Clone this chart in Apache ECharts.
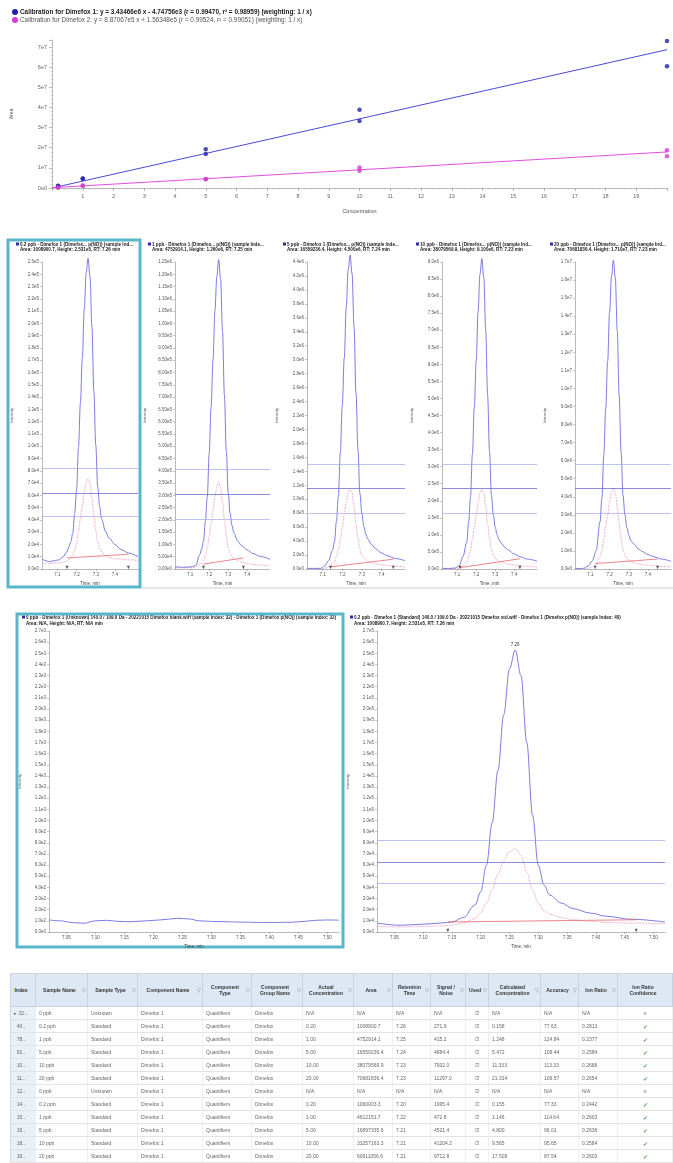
<!DOCTYPE html>
<html><head><meta charset="utf-8">
<script src="https://cdn.jsdelivr.net/npm/echarts@6/dist/echarts.min.js"></script>
<style>
html,body{margin:0;padding:0;background:#fff;width:673px;height:1163px;overflow:hidden;font-family:'Liberation Sans',Arial,sans-serif}
#chart{position:absolute;left:0;top:0;width:673px;height:1163px}
#tbl{position:absolute;left:10px;top:973px;width:662px;border-collapse:collapse;table-layout:fixed;font-size:5px;color:#666;border:1px solid #cfd8e2}
#tbl th{background:#dde8f4;color:#333;font-weight:bold;height:32px;padding:0 6px 0 2px;border-right:1px solid #c5d2df;border-bottom:1px solid #c5d2df;text-align:center;position:relative;line-height:6px;white-space:normal}
#tbl th span.f{position:absolute;right:1px;top:13px;color:#777;font-weight:normal;font-size:5px}
#tbl td{height:12px;padding:0 3px;border-bottom:1px solid #e3e3e3;border-right:1px solid #f0f0f0;white-space:nowrap;overflow:hidden;text-align:left}
#tbl td.ix{background:#e9f0f8;color:#666}
#tbl td.c{text-align:center}
#tbl td.ok{color:#4caf50;text-align:center;font-size:6px}
#tbl td.na{color:#999;text-align:center;font-size:5px}
</style></head><body>
<div id="chart"></div>
<table id="tbl"></table>
<script>
// ---------------- calibration data ----------------
const calibTitles = [
  "Calibration for Dimefox 1: y = 3.43466e6 x - 4.74756e3 (r = 0.99470, r\u00b2 = 0.98959) (weighting: 1 / x)",
  "Calibration for Dimefox 2: y = 8.87067e5 x + 1.56348e5 (r = 0.99524, r\u00b2 = 0.99051) (weighting: 1 / x)"
];
const quant1Points = [[0.2,1.0e6],[0.2,1.06e6],[1,4.75e6],[1,4.61e6],[5,1.69e7],[5,1.93e7],[10,3.88e7],[10,3.33e7],[20,7.3e7],[20,6.05e7]];
const quant2Points = [[0.2,2.8e5],[0.2,2.6e5],[1,1.13e6],[1,1.20e6],[5,4.3e6],[5,4.45e6],[10,1.02e7],[10,8.6e6],[20,1.88e7],[20,1.58e7]];
const quant1Fit = [[0,-4.7e3],[20,6.869e7]];
const quant2Fit = [[0,1.56e5],[20,1.79e7]];

// ---------------- small chromatogram panels (shared time grid) ----------------
const smallTimes = [7.02,7.06,7.09,7.11,7.13,7.15,7.16,7.17,7.18,7.19,7.20,7.21,7.22,7.23,7.24,7.25,7.26,7.27,7.28,7.29,7.30,7.31,7.32,7.33,7.35,7.37,7.40,7.43,7.47,7.52];
const p1Quant = [0.8e4,0.6e4,0.7e4,0.75e4,1.0e4,1.4e4,1.8e4,2.2e4,2.9e4,4.5e4,6.4e4,9.9e4,13.5e4,17.2e4,21.1e4,24.1e4,25.3e4,23.8e4,19.7e4,14.5e4,10.1e4,6.7e4,5.1e4,4.1e4,3.1e4,2.5e4,2.0e4,1.6e4,1.3e4,1.0e4];
const p1Qual  = [0.5e4,0.45e4,0.5e4,0.5e4,0.55e4,0.65e4,0.75e4,0.9e4,1.1e4,1.5e4,2.1e4,3.0e4,4.1e4,5.1e4,6.2e4,7.0e4,7.35e4,7.0e4,5.8e4,4.4e4,3.1e4,2.2e4,1.7e4,1.4e4,1.1e4,0.95e4,0.85e4,0.8e4,0.75e4,0.7e4];
const p2Quant = [0.9e4,0.7e4,0.8e4,0.9e4,1.5e4,5.8e4,8.1e4,11.4e4,19.6e4,29.5e4,47e4,66e4,85e4,105e4,119e4,126e4,118e4,97e4,71e4,48e4,31e4,22.7e4,17.7e4,14.6e4,11.4e4,9.5e4,7.7e4,6.3e4,5.1e4,3.9e4];
const p2Qual  = [0.5e4,0.4e4,0.5e4,0.5e4,0.7e4,1.9e4,2.5e4,3.4e4,5.7e4,8.4e4,13.2e4,18.5e4,23.8e4,29.4e4,33.4e4,35.4e4,33.2e4,27.3e4,20e4,13.5e4,8.8e4,6.5e4,5.1e4,4.2e4,3.3e4,2.8e4,2.3e4,1.9e4,1.6e4,1.3e4];
const p3Quant = [0.1e5,0.08e5,0.1e5,0.45e5,1.2e5,2.7e5,3.9e5,6.8e5,10.4e5,16.7e5,23.4e5,30.2e5,37.4e5,42.8e5,45e5,42.3e5,34.7e5,25.2e5,17.1e5,10.8e5,7.9e5,6.1e5,5.0e5,4.3e5,3.5e5,2.9e5,2.3e5,1.9e5,1.5e5,1.2e5];
const p3Qual  = [0.05e5,0.04e5,0.05e5,0.12e5,0.3e5,0.7e5,1.0e5,1.75e5,2.7e5,4.3e5,6.0e5,7.8e5,9.6e5,11.0e5,11.6e5,10.9e5,8.9e5,6.5e5,4.4e5,2.8e5,2.0e5,1.6e5,1.3e5,1.1e5,0.9e5,0.75e5,0.6e5,0.5e5,0.4e5,0.3e5];
const p4Quant = [0.2e5,0.15e5,0.3e5,0.9e5,3.6e5,7.7e5,13.6e5,21e5,33.7e5,47.3e5,61e5,75.5e5,86.5e5,91e5,85.5e5,70e5,51e5,34.6e5,21.8e5,15.9e5,12.3e5,10e5,8.6e5,7.7e5,6.4e5,5.5e5,4.4e5,3.6e5,2.9e5,2.3e5];
const p4Qual  = [0.1e5,0.08e5,0.12e5,0.25e5,0.95e5,2.0e5,3.5e5,5.4e5,8.7e5,12.2e5,15.7e5,19.5e5,22.3e5,23.5e5,22.1e5,18.1e5,13.2e5,8.9e5,5.6e5,4.1e5,3.2e5,2.6e5,2.2e5,2.0e5,1.65e5,1.4e5,1.15e5,0.95e5,0.75e5,0.6e5];
const p5Quant = [0.03e6,0.03e6,0.17e6,0.45e6,1.0e6,2.6e6,3.9e6,6.3e6,8.9e6,11.5e6,14.2e6,16.2e6,17.1e6,16.1e6,13.2e6,9.6e6,6.5e6,4.1e6,3.0e6,2.3e6,1.9e6,1.6e6,1.45e6,1.35e6,1.1e6,0.97e6,0.8e6,0.68e6,0.55e6,0.42e6];
const p5Qual  = [0.01e6,0.01e6,0.05e6,0.12e6,0.26e6,0.68e6,1.03e6,1.65e6,2.35e6,3.0e6,3.73e6,4.26e6,4.49e6,4.22e6,3.46e6,2.52e6,1.71e6,1.08e6,0.79e6,0.6e6,0.5e6,0.42e6,0.38e6,0.35e6,0.29e6,0.25e6,0.21e6,0.18e6,0.14e6,0.11e6];
const p1Base = [[7.15,0.9e4],[7.47,1.2e4]];
const p2Base = [[7.17,2.0e4],[7.38,4.5e4]];
const p3Base = [[7.14,0.3e5],[7.46,1.4e5]];
const p4Base = [[7.115,0.4e5],[7.43,3.0e5]];
const p5Base = [[7.125,0.3e6],[7.45,0.55e6]];
const p1Ratio = [8.2e4,6.2e4,4.3e4];
const p2Ratio = [4.07e5,3.05e5,2.04e5];
const p3Ratio = [15.05e5,11.6e5,8.03e5];
const p4Ratio = [30.8e5,23.7e5,16.4e5];
const p5Ratio = [5.81e6,4.49e6,3.1e6];
const p1Marks = [7.15,7.47], p2Marks = [7.17,7.38], p3Marks = [7.14,7.46], p4Marks = [7.115,7.43], p5Marks = [7.125,7.45];
const peakRT = ["7.26","7.25","7.24","7.23","7.23"];
const panelMax = [2.5e5,1.25e6,4.4e6,9.0e6,1.7e7];
const panelStep = [1e4,5e4,2e5,5e5,1e6];
const panelDec = [1,2,1,1,1];
const smallTicks = [7.1,7.2,7.3,7.4];

// ---------------- large panels ----------------
const bigTicks = [7.05,7.10,7.15,7.20,7.25,7.30,7.35,7.40,7.45,7.50];
const bigTimes = [7.02,7.06,7.10,7.13,7.15,7.17,7.19,7.20,7.21,7.22,7.23,7.24,7.25,7.26,7.27,7.28,7.29,7.30,7.31,7.32,7.34,7.36,7.39,7.42,7.46,7.52];
const bigQuant = [0.8e4,0.6e4,0.7e4,0.8e4,0.9e4,1.3e4,2.4e4,3.6e4,6.0e4,9.8e4,14.5e4,19.5e4,23.6e4,25.3e4,23.0e4,17.0e4,10.5e4,6.0e4,4.2e4,3.3e4,2.6e4,2.1e4,1.7e4,1.4e4,1.15e4,0.9e4];
const bigQual  = [0.5e4,0.45e4,0.5e4,0.55e4,0.6e4,0.8e4,1.2e4,1.7e4,2.6e4,3.8e4,5.2e4,6.4e4,7.2e4,7.5e4,6.9e4,5.4e4,3.8e4,2.6e4,1.9e4,1.6e4,1.3e4,1.1e4,0.95e4,0.85e4,0.8e4,0.75e4];
const bigBase = [[7.143,0.9e4],[7.47,1.1e4]];
const bigRatio = [8.25e4,6.28e4,4.4e4];
const bigMarks = [7.143,7.47];
const blankTimes = [7.02,7.04,7.06,7.08,7.10,7.12,7.14,7.16,7.18,7.20,7.22,7.24,7.26,7.28,7.30,7.32,7.34,7.36,7.38,7.40,7.42,7.44,7.46,7.48,7.50,7.52];
const blankQuant = [108,100,85,78,100,105,95,92,98,104,112,123,118,100,95,93,90,88,86,85,86,88,95,105,108,106];

const panelHeaders = [
  ["0.2 ppb - Dimefox 1 (Dimefox... p(NO)) (sample Index: 40)","Area: 1008900.7, Height: 2.531e5, RT: 7.26 min"],
  ["1 ppb - Dimefox 1 (Dimefox... p(NO)) (sample Index: 78)","Area: 4752914.1, Height: 1.260e6, RT: 7.25 min"],
  ["5 ppb - Dimefox 1 (Dimefox... p(NO)) (sample Index: 91)","Area: 16559236.4, Height: 4.500e6, RT: 7.24 min"],
  ["10 ppb - Dimefox 1 (Dimefox... p(NO)) (sample Index: 10)","Area: 38079569.9, Height: 9.100e6, RT: 7.23 min"],
  ["20 ppb - Dimefox 1 (Dimefox... p(NO)) (sample Index: 11)","Area: 70681836.4, Height: 1.710e7, RT: 7.23 min"]
];
const bigHeaders = [
  ["0 ppb - Dimefox 1 (Unknown) 140.0 / 109.0 Da - 20221015 Dimefox blank.wiff (sample Index: 32) - Dimefox 1 (Dimefox p(NO)) (sample Index: 32)","Area: N/A, Height: N/A, RT: N/A min"],
  ["0.2 ppb - Dimefox 1 (Standard) 140.0 / 109.0 Da - 20221015 Dimefox std.wiff - Dimefox 1 (Dimefox p(NO)) (sample Index: 40)","Area: 1008900.7, Height: 2.531e5, RT: 7.26 min"]
];

// ---------------- table data ----------------
const tblHeaders = ["Index","Sample Name","Sample Type","Component Name","Component Type","Component Group Name","Actual Concentration","Area","Retention Time","Signal / Noise","Used","Calculated Concentration","Accuracy","Ion Ratio","Ion Ratio Confidence"];
const tblWidths = [25,52,50,65,49,51,51,39,38,35,23,52,38,39,55];
const colIndex = ["32...","40...","78...","91...","10...","11...","12...","14...","15...","16...","18...","19..."];
const colSample = ["0 ppb","0.2 ppb","1 ppb","5 ppb","10 ppb","20 ppb","0 ppb","0.2 ppb","1 ppb","5 ppb","10 ppb","20 ppb"];
const colType = ["Unknown","Standard","Standard","Standard","Standard","Standard","Unknown","Standard","Standard","Standard","Standard","Standard"];
const colComp = "Dimefox 1", colCompType = "Quantifiers", colGroup = "Dimefox";
const colActual = ["N/A","0.20","1.00","5.00","10.00","20.00","N/A","0.20","1.00","5.00","10.00","20.00"];
const colArea = ["N/A","1008900.7","4752914.1","16559236.4","38079569.9","70681836.4","N/A","1060003.3","4612151.7","16897335.6","33257163.3","60611056.6"];
const colRT = ["N/A","7.26","7.25","7.24","7.23","7.23","N/A","7.20","7.22","7.21","7.21","7.21"];
const colSN = ["N/A","271.9","415.2","4884.4","7932.0","11297.0","N/A","1995.4","472.8","4521.4","41204.2","9712.8"];
const colCalc = ["N/A","0.158","1.248","5.472","11.333","21.314","N/A","0.155","1.146","4.800","9.565","17.509"];
const colAcc = ["N/A","77.63","124.84","109.44","113.33","106.57","N/A","77.33","114.64","96.01","95.65","87.54"];
const colIon = ["N/A","0.2813","0.2377","0.2584","0.2668","0.2654","N/A","0.2442","0.2603","0.2636","0.2584","0.2603"];
const colConf = ["na","ok","ok","ok","ok","ok","na","ok","ok","ok","ok","ok"];

// ---------------- build table ----------------
(function(){
  const t = document.getElementById('tbl');
  let h = '<colgroup>' + tblWidths.map(w=>'<col style="width:'+w+'px">').join('') + '</colgroup><tr>';
  tblHeaders.forEach((s,i)=>{ h += '<th>' + s + ((i>0 && i<14) ? '<span class="f">\u25BD</span>' : '') + '</th>'; });
  h += '</tr>';
  for (let r=0;r<colIndex.length;r++){
    h += '<tr><td class="ix">' + (r===0?'\u25B8 ':'&nbsp;&nbsp;') + colIndex[r] + '</td><td>' + colSample[r] + '</td><td>' + colType[r] + '</td><td>' + colComp + '</td><td>' + colCompType + '</td><td>' + colGroup + '</td><td>' + colActual[r] + '</td><td>' + colArea[r] + '</td><td>' + colRT[r] + '</td><td>' + colSN[r] + '</td><td class="c">\u2611</td><td>' + colCalc[r] + '</td><td>' + colAcc[r] + '</td><td>' + colIon[r] + '</td>' + (colConf[r]==='ok' ? '<td class="ok">\u2714</td>' : '<td class="na">\u2297</td>') + '</tr>';
  }
  t.innerHTML = h;
})();

// ---------------- chart ----------------
const FONT = 'Liberation Sans';
const expFmt = d => v => v.toExponential(d).replace('+','');
const zip = (xs, ys) => xs.map((x,i)=>[x, ys[i]]);

const grids = [
  {left:52, top:40, width:615, height:148},
  {left:42, top:262, width:96, height:307},
  {left:175, top:262, width:95, height:307},
  {left:307, top:262, width:98, height:307},
  {left:442, top:262, width:95, height:307},
  {left:575, top:262, width:96, height:307},
  {left:49, top:631, width:290, height:301},
  {left:377, top:631, width:288, height:301}
];
const axisLineStyle = {lineStyle:{color:'#8a8a8a', width:0.6}};
const xAxes = [], yAxes = [], series = [];

xAxes.push({gridIndex:0, type:'value', min:0, max:20, interval:1, name:'Concentration', nameLocation:'middle', nameGap:20,
  nameTextStyle:{fontSize:5.5, color:'#555', fontFamily:FONT},
  axisLine:axisLineStyle, axisTick:{length:3, lineStyle:{color:'#8a8a8a', width:0.6}},
  minorTick:{show:true, splitNumber:5, length:1.5, lineStyle:{color:'#aaa', width:0.5}},
  axisLabel:{fontSize:5.5, color:'#666', margin:5, fontFamily:FONT, formatter:v=>(v===0||v===20)?'':String(v)},
  splitLine:{show:false}});
yAxes.push({gridIndex:0, type:'value', min:0, max:7.35e7, interval:1e7, name:'Area', nameLocation:'middle', nameGap:38, nameRotate:90,
  nameTextStyle:{fontSize:5, color:'#555', fontFamily:FONT},
  axisLine:{show:true, lineStyle:{color:'#8a8a8a', width:0.6}}, axisTick:{show:true, length:3, lineStyle:{color:'#8a8a8a', width:0.6}},
  minorTick:{show:true, splitNumber:5, length:1.5, lineStyle:{color:'#aaa', width:0.5}},
  axisLabel:{fontSize:5.5, color:'#666', margin:5, fontFamily:FONT, showMaxLabel:false, formatter:expFmt(0)},
  splitLine:{show:false}});
series.push({type:'line', xAxisIndex:0, yAxisIndex:0, data:quant1Fit, symbol:'none', lineStyle:{color:'#4a4ad6', width:1}, z:2});
series.push({type:'line', xAxisIndex:0, yAxisIndex:0, data:quant2Fit, symbol:'none', lineStyle:{color:'#e04fe0', width:1}, z:2});
series.push({type:'scatter', xAxisIndex:0, yAxisIndex:0, data:quant1Points, symbol:'circle', symbolSize:4.5, itemStyle:{color:'#2020a8'}, z:3});
series.push({type:'scatter', xAxisIndex:0, yAxisIndex:0, data:quant2Points, symbol:'circle', symbolSize:4.5, itemStyle:{color:'#d23ad0'}, z:3});

function chromAxes(gi, max, step, dec, ticks, xdec, nameGapY){
  xAxes.push({gridIndex:gi, type:'value', min:7.02, max:7.52, name:'Time, min', nameLocation:'middle', nameGap:12,
    nameTextStyle:{fontSize:4.5, color:'#444', fontFamily:FONT},
    axisLine:axisLineStyle, axisTick:{customValues:ticks, length:2, lineStyle:{color:'#8a8a8a', width:0.5}},
    axisLabel:{customValues:ticks, fontSize:4.5, color:'#555', margin:3, fontFamily:FONT, formatter:v=>v.toFixed(xdec)},
    splitLine:{show:false}});
  yAxes.push({gridIndex:gi, type:'value', min:0, max:max, interval:step, name:'Intensity', nameLocation:'middle', nameGap:nameGapY, nameRotate:90,
    nameTextStyle:{fontSize:4, color:'#555', fontFamily:FONT},
    axisLine:{show:true, lineStyle:{color:'#8a8a8a', width:0.6}}, axisTick:{show:true, length:2, lineStyle:{color:'#8a8a8a', width:0.5}},
    axisLabel:{fontSize:4.5, color:'#555', margin:3, fontFamily:FONT, formatter:expFmt(dec)},
    splitLine:{show:false}});
}
function chromSeries(ai, times, quant, qual, base, ratio, marks, rt, labelPos){
  const s = {type:'line', xAxisIndex:ai, yAxisIndex:ai, data:zip(times, quant), symbol:'none', smooth:0.35, smoothMonotone:'x', clip:false,
    lineStyle:{color:'#6d6ce0', width:0.9}, z:3};
  if (ratio) s.markLine = {silent:true, symbol:['none','none'], label:{show:false}, lineStyle:{color:'#a5a5eb', width:0.7, type:'solid'},
    data:[{yAxis:ratio[0]},{yAxis:ratio[2]}]};
  if (rt) s.markPoint = {symbol:'circle', symbolSize:1, itemStyle:{color:'rgba(0,0,0,0)'}, data:[{type:'max'}],
    label:{show:true, position:labelPos, distance:2, formatter:rt, fontSize:4.5, color:'#333', fontFamily:FONT}};
  series.push(s);
  if (qual) {
    const q = {type:'line', xAxisIndex:ai, yAxisIndex:ai, data:zip(times, qual), symbol:'none', smooth:0.35, smoothMonotone:'x', clip:false,
      lineStyle:{color:'#f29ac4', width:0.8, type:[2,1]}, z:2};
    if (ratio) q.markLine = {silent:true, symbol:['none','none'], label:{show:false}, lineStyle:{color:'#6f6fd6', width:0.8, type:'solid'},
      data:[{yAxis:ratio[1]}]};
    series.push(q);
  }
  if (base) series.push({type:'line', xAxisIndex:ai, yAxisIndex:ai, data:base, symbol:'none', lineStyle:{color:'#e4505a', width:0.7}, z:4});
  if (marks) series.push({type:'scatter', xAxisIndex:ai, yAxisIndex:ai, data:marks.map(t=>[t,0]), symbol:'triangle', symbolRotate:180,
    symbolSize:[3,3.5], symbolOffset:[0,-1.5], clip:false, itemStyle:{color:'#333'}, z:5});
}
const pQuant = [p1Quant,p2Quant,p3Quant,p4Quant,p5Quant];
const pQual = [p1Qual,p2Qual,p3Qual,p4Qual,p5Qual];
const pBase = [p1Base,p2Base,p3Base,p4Base,p5Base];
const pRatio = [p1Ratio,p2Ratio,p3Ratio,p4Ratio,p5Ratio];
const pMarks = [p1Marks,p2Marks,p3Marks,p4Marks,p5Marks];
for (let i=0;i<5;i++){
  chromAxes(i+1, panelMax[i], panelStep[i], panelDec[i], smallTicks, 1, 28);
  chromSeries(i+1, smallTimes, pQuant[i], pQual[i], pBase[i], pRatio[i], pMarks[i], peakRT[i], 'right');
}
chromAxes(6, 2.7e3, 1e2, 1, bigTicks, 2, 27);
chromSeries(6, blankTimes, blankQuant, null, null, null, null, null, null);
chromAxes(7, 2.7e5, 1e4, 1, bigTicks, 2, 27);
chromSeries(7, bigTimes, bigQuant, bigQual, bigBase, bigRatio, bigMarks, peakRT[0], 'top');

// graphics
const graphic = [];
graphic.push({type:'circle', shape:{cx:15, cy:12, r:3}, style:{fill:'#1f1fb4'}});
graphic.push({type:'circle', shape:{cx:15, cy:20, r:3}, style:{fill:'#d83ad6'}});
graphic.push({type:'text', x:20, y:12, style:{text:calibTitles[0], font:'bold 6.4px ' + FONT, fill:'#1a1a1a', verticalAlign:'middle', textVerticalAlign:'middle'}});
graphic.push({type:'text', x:20, y:20, style:{text:calibTitles[1], font:'6.4px ' + FONT, fill:'#555', verticalAlign:'middle', textVerticalAlign:'middle'}});
const headX = [16,148,283,416,550];
for (let i=0;i<5;i++){
  graphic.push({type:'rect', shape:{x:headX[i], y:242.5, width:3, height:3}, style:{fill:'#2a2aa6'}});
  graphic.push({type:'text', x:headX[i]+4, y:244.5, style:{text:panelHeaders[i][0], width:115, overflow:'truncate', font:'bold 4.6px ' + FONT, fill:'#222', verticalAlign:'middle', textVerticalAlign:'middle'}});
  graphic.push({type:'text', x:headX[i]+4, y:250, style:{text:panelHeaders[i][1], width:115, overflow:'truncate', font:'bold 4.6px ' + FONT, fill:'#222', verticalAlign:'middle', textVerticalAlign:'middle'}});
}
const bigHeadX = [22,350];
for (let i=0;i<2;i++){
  graphic.push({type:'rect', shape:{x:bigHeadX[i], y:615.5, width:3, height:3}, style:{fill:'#2a2aa6'}});
  graphic.push({type:'text', x:bigHeadX[i]+4, y:617.5, style:{text:bigHeaders[i][0], width:312, overflow:'truncate', font:'bold 4.6px ' + FONT, fill:'#222', verticalAlign:'middle', textVerticalAlign:'middle'}});
  graphic.push({type:'text', x:bigHeadX[i]+4, y:623.5, style:{text:bigHeaders[i][1], width:312, overflow:'truncate', font:'bold 4.6px ' + FONT, fill:'#222', verticalAlign:'middle', textVerticalAlign:'middle'}});
}
graphic.push({type:'rect', shape:{x:8, y:240, width:132, height:347}, style:{fill:'none', stroke:'#5ab7cb', lineWidth:3}});
graphic.push({type:'rect', shape:{x:17, y:614, width:326, height:333}, style:{fill:'none', stroke:'#5ab7cb', lineWidth:3}});
graphic.push({type:'line', shape:{x1:141, y1:588, x2:673, y2:588}, style:{stroke:'#cfcfcf', lineWidth:1}});

const chart = echarts.init(document.getElementById('chart'), null, {renderer:'canvas'});
chart.setOption({
  animation:false,
  backgroundColor:'#fff',
  textStyle:{fontFamily:FONT},
  grid:grids,
  xAxis:xAxes,
  yAxis:yAxes,
  series:series,
  graphic:graphic
});
</script>
</body></html>
